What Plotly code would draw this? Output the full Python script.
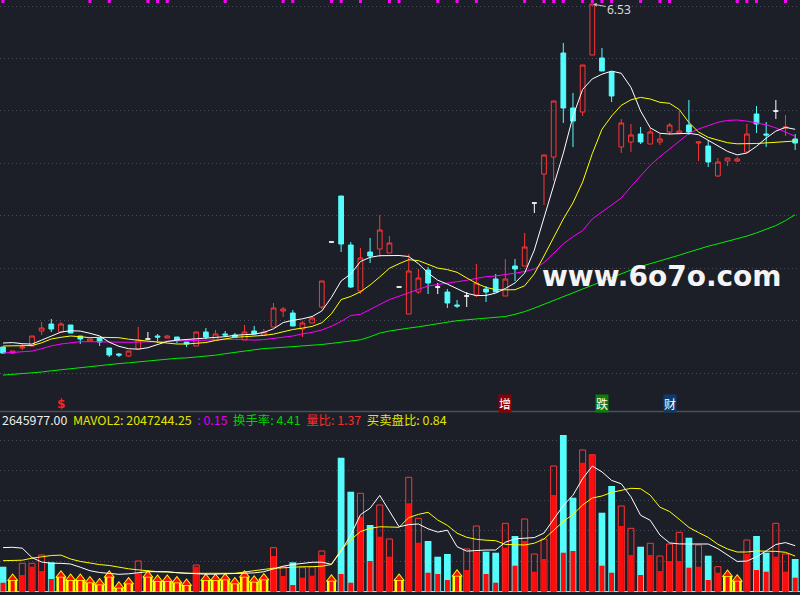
import plotly.graph_objects as go

# ---------------- daily price data (index = trading day) ----------------
OPEN = [3.10, 3.04, 3.09, 3.11, 3.26, 3.33, 3.25, 3.32, 3.21, 3.16,
        3.19, 3.09, 3.03, 3.01, 3.08, 3.18, 3.21, 3.19, 3.20, 3.15,
        3.11, 3.25, 3.17, 3.23, 3.22, 3.17, 3.26, 3.22, 3.30, 3.46,
        3.44, 3.28, 3.34, 3.50, 4.15, 4.61, 4.12, 3.66, 4.05, 4.08,
        4.04, 3.70, 3.43, 3.65, 3.87, 3.70, 3.65, 3.52, 3.61, 3.62,
        3.68, 3.78, 3.61, 3.91, 3.91, 4.54, 4.83, 5.00, 6.04, 5.49,
        5.45, 6.02, 5.99, 5.85, 5.10, 5.15, 5.23, 5.13, 5.15, 5.25,
        5.24, 5.32, 5.14, 5.11, 4.81, 4.96, 4.96, 5.05, 5.43, 5.23,
        5.46, 5.29, 5.18]
HIGH = [3.10, 3.06, 3.13, 3.21, 3.35, 3.38, 3.35, 3.32, 3.21, 3.18,
        3.19, 3.09, 3.04, 3.06, 3.30, 3.25, 3.23, 3.22, 3.20, 3.15,
        3.25, 3.29, 3.27, 3.26, 3.24, 3.32, 3.31, 3.28, 3.54, 3.50,
        3.47, 3.36, 3.41, 3.76, 4.15, 4.61, 4.15, 4.09, 4.19, 4.42,
        4.21, 3.70, 4.03, 3.88, 3.90, 3.74, 3.68, 3.57, 3.65, 3.93,
        3.71, 3.83, 3.98, 3.98, 4.24, 4.54, 5.02, 5.56, 6.14, 5.64,
        5.92, 6.53, 6.09, 5.85, 5.38, 5.33, 5.30, 5.29, 5.23, 5.34,
        5.46, 5.57, 5.15, 5.17, 4.99, 4.99, 5.00, 5.33, 5.51, 5.35,
        5.57, 5.42, 5.23]
LOW = [3.03, 3.03, 3.07, 3.11, 3.22, 3.25, 3.25, 3.24, 3.13, 3.16,
       3.11, 3.00, 3.00, 3.00, 3.08, 3.18, 3.14, 3.19, 3.14, 3.10,
       3.11, 3.18, 3.17, 3.20, 3.20, 3.17, 3.23, 3.22, 3.30, 3.40,
       3.31, 3.20, 3.34, 3.48, 4.15, 4.05, 3.69, 3.63, 3.94, 4.00,
       4.04, 3.70, 3.43, 3.63, 3.63, 3.63, 3.49, 3.49, 3.50, 3.60,
       3.55, 3.65, 3.61, 3.76, 3.91, 4.44, 4.52, 4.76, 5.34, 5.10,
       5.41, 6.02, 5.86, 5.55, 5.04, 5.05, 5.13, 5.13, 5.12, 5.22,
       5.24, 5.22, 4.96, 4.90, 4.80, 4.91, 4.95, 5.05, 5.24, 5.10,
       5.38, 5.21, 5.07]
CLOSE = [3.04, 3.06, 3.10, 3.21, 3.29, 3.28, 3.33, 3.24, 3.18, 3.18,
         3.15, 3.02, 3.02, 3.06, 3.17, 3.18, 3.20, 3.21, 3.17, 3.13,
         3.25, 3.20, 3.23, 3.22, 3.20, 3.25, 3.23, 3.25, 3.49, 3.48,
         3.31, 3.34, 3.39, 3.76, 4.15, 4.13, 3.70, 3.99, 4.01, 4.27,
         4.14, 3.70, 3.86, 3.79, 3.74, 3.70, 3.54, 3.51, 3.61, 3.74,
         3.65, 3.65, 3.78, 3.88, 4.10, 4.54, 5.02, 5.56, 5.49, 5.36,
         5.92, 6.53, 5.86, 5.61, 5.34, 5.22, 5.15, 5.25, 5.18, 5.32,
         5.26, 5.25, 5.15, 4.95, 4.95, 4.99, 4.98, 5.23, 5.33, 5.22,
         5.46, 5.30, 5.14]

# moving averages of close
MA5 = [3.140, 3.144, 3.133, 3.129, 3.169, 3.209, 3.249, 3.263, 3.259, 3.237,
       3.211, 3.148, 3.107, 3.083, 3.078, 3.093, 3.127, 3.156, 3.168, 3.175,
       3.179, 3.182, 3.189, 3.203, 3.217, 3.221, 3.229, 3.246, 3.282, 3.344,
       3.367, 3.382, 3.405, 3.460, 3.596, 3.760, 3.830, 3.955, 3.997, 4.013,
       4.013, 4.015, 4.005, 3.933, 3.840, 3.768, 3.729, 3.685, 3.637, 3.614,
       3.616, 3.639, 3.685, 3.741, 3.839, 4.070, 4.390, 4.714, 5.037, 5.407,
       5.676, 5.781, 5.828, 5.859, 5.837, 5.697, 5.460, 5.292, 5.237, 5.230,
       5.236, 5.237, 5.223, 5.165, 5.109, 5.056, 5.021, 5.040, 5.107, 5.189,
       5.259, 5.296, 5.277]
MA10 = [3.110, 3.110, 3.110, 3.115, 3.142, 3.180, 3.197, 3.210, 3.203, 3.193,
        3.197, 3.197, 3.193, 3.178, 3.167, 3.159, 3.146, 3.134, 3.130, 3.130,
        3.135, 3.145, 3.165, 3.183, 3.197, 3.203, 3.207, 3.216, 3.229, 3.252,
        3.275, 3.289, 3.306, 3.342, 3.432, 3.574, 3.606, 3.652, 3.720, 3.801,
        3.887, 3.933, 3.973, 3.964, 3.928, 3.889, 3.874, 3.847, 3.791, 3.737,
        3.696, 3.674, 3.672, 3.673, 3.712, 3.832, 4.010, 4.192, 4.380, 4.542,
        4.750, 5.034, 5.277, 5.410, 5.517, 5.572, 5.596, 5.580, 5.547, 5.537,
        5.475, 5.345, 5.250, 5.196, 5.166, 5.143, 5.132, 5.130, 5.135, 5.141,
        5.149, 5.157, 5.160]
MA20 = [3.039, 3.045, 3.050, 3.059, 3.083, 3.111, 3.130, 3.142, 3.153, 3.153,
        3.150, 3.147, 3.147, 3.147, 3.149, 3.152, 3.158, 3.162, 3.166, 3.167,
        3.169, 3.172, 3.176, 3.177, 3.177, 3.174, 3.169, 3.174, 3.187, 3.202,
        3.210, 3.232, 3.246, 3.270, 3.308, 3.355, 3.415, 3.426, 3.477, 3.528,
        3.574, 3.608, 3.641, 3.681, 3.710, 3.725, 3.738, 3.750, 3.767, 3.786,
        3.803, 3.811, 3.822, 3.838, 3.855, 3.879, 3.944, 4.037, 4.131, 4.203,
        4.264, 4.380, 4.450, 4.527, 4.590, 4.703, 4.814, 4.918, 5.002, 5.082,
        5.163, 5.236, 5.280, 5.314, 5.347, 5.366, 5.370, 5.359, 5.340, 5.322,
        5.291, 5.248, 5.207]
MA60 = [2.819, 2.825, 2.832, 2.838, 2.850, 2.862, 2.873, 2.884, 2.893, 2.903,
        2.913, 2.928, 2.934, 2.942, 2.952, 2.962, 2.972, 2.982, 2.987, 2.991,
        2.998, 3.007, 3.018, 3.033, 3.047, 3.058, 3.068, 3.085, 3.090, 3.096,
        3.105, 3.111, 3.118, 3.125, 3.136, 3.149, 3.162, 3.172, 3.202, 3.239,
        3.260, 3.278, 3.289, 3.302, 3.319, 3.333, 3.348, 3.363, 3.372, 3.380,
        3.387, 3.396, 3.405, 3.427, 3.454, 3.489, 3.527, 3.569, 3.610, 3.649,
        3.687, 3.724, 3.760, 3.798, 3.834, 3.870, 3.905, 3.932, 3.960, 3.988,
        4.018, 4.049, 4.082, 4.108, 4.132, 4.156, 4.180, 4.209, 4.241, 4.277,
        4.314, 4.364, 4.423]

# ---------------- volume data ----------------
VOL = [1432000, 1051000, 1629000, 1629000, 2108000, 1686000, 1242000, 1051000, 1051000, 913000,
       797000, 1242000, 606000, 855000, 1762000, 1242000, 993000, 993000, 913000, 762000,
       1531000, 1051000, 1051000, 1086000, 855000, 1242000, 953000, 1086000, 2530000, 1432000,
       1686000, 1375000, 1432000, 2339000, 1011000, 7728000, 5764000, 5672000, 3841000, 4996000,
       3032000, 1051000, 6596000, 4228000, 2917000, 2010000, 2166000, 1300000, 2455000, 3783000,
       2299000, 2241000, 3939000, 3205000, 4187000, 2166000, 3032000, 7248000, 9039000, 5418000,
       8173000, 7901000, 4551000, 6093000, 4938000, 3650000, 2587000, 2784000, 2050000, 2743000,
       3419000, 3107000, 2686000, 2068000, 1432000, 1282000, 1011000, 2974000, 3205000, 2241000,
       3939000, 2166000, 1877000]
BUY_VOL = [508000, 1051000, 953000, 1432000, 1184000, 722000, 1242000, 1051000, 1051000, 913000,
           797000, 1242000, 606000, 855000, 1051000, 1242000, 993000, 993000, 913000, 762000,
           1432000, 1051000, 1051000, 1086000, 855000, 1242000, 953000, 1086000, 2050000, 895000,
           375000, 797000, 913000, 2108000, 1011000, 1011000, 508000, 4320000, 1762000, 3165000,
           2010000, 1051000, 5094000, 2818000, 1086000, 1011000, 664000, 1300000, 1242000, 2299000,
           1011000, 508000, 2530000, 1490000, 2917000, 1144000, 1877000, 5574000, 2241000, 2339000,
           7439000, 7901000, 1490000, 1086000, 3783000, 2108000, 953000, 2108000, 1184000, 1762000,
           1762000, 1375000, 1432000, 664000, 1086000, 1282000, 1011000, 2166000, 1242000, 1144000,
           2010000, 1144000, 797000]
VOL_MA5 = [2535000, 2553000, 2501000, 1958000, 1704000, 1629000, 1629000, 1588000, 1403000, 1201000,
           1097000, 1045000, 993000, 1022000, 1092000, 1144000, 1144000, 1144000, 1086000, 1051000,
           1051000, 999000, 1005000, 1022000, 1040000, 1057000, 1074000, 1144000, 1311000, 1461000,
           1559000, 1640000, 1686000, 1692000, 1571000, 2339000, 3263000, 4436000, 4811000, 5550000,
           4667000, 3737000, 3864000, 3899000, 3621000, 3431000, 3540000, 2587000, 2333000, 2385000,
           2397000, 2397000, 2847000, 3044000, 3090000, 3113000, 3379000, 4147000, 4967000, 5562000,
           6521000, 7243000, 6908000, 6417000, 6220000, 5470000, 4401000, 4112000, 3263000, 2807000,
           2749000, 2743000, 2743000, 2743000, 2472000, 2108000, 1738000, 1756000, 2004000, 2345000,
           2715000, 2824000, 2645977.00]
VOL_MA10 = [1779000, 1779000, 1808000, 1923000, 2010000, 2079000, 2102000, 1877000, 1738000, 1640000,
            1554000, 1502000, 1398000, 1311000, 1248000, 1184000, 1144000, 1126000, 1086000, 1051000,
            1051000, 1051000, 1051000, 1051000, 1051000, 1126000, 1207000, 1288000, 1346000, 1369000,
            1409000, 1432000, 1432000, 1461000, 1559000, 2414000, 2986000, 3460000, 3650000, 3737000,
            3725000, 3708000, 4268000, 4453000, 4574000, 4130000, 3818000, 3367000, 3130000, 3015000,
            2963000, 2934000, 2720000, 2686000, 2686000, 2790000, 3032000, 3535000, 4043000, 4453000,
            4996000, 5400000, 5516000, 5724000, 5839000, 5960000, 5937000, 5562000, 4869000, 4620000,
            4170000, 3702000, 3402000, 3125000, 2726000, 2455000, 2281000, 2281000, 2339000, 2345000,
            2316000, 2264000, 2047244.25]

# low-volume signal days and top-row signal days
LOW_VOL_DAYS = [1, 6, 7, 8, 9, 10, 11, 12, 13, 15, 16, 17, 18, 19, 21, 22, 23, 24, 25, 26, 27,
                34, 41, 47, 75, 76]
SIGNAL_DAYS = [0, 9, 11, 15, 16, 17, 23, 29, 30, 34, 35, 37, 40, 41, 45, 47, 49, 54, 56, 57,
               58, 60, 61, 62, 63, 66, 68, 69, 76, 77, 78, 81]
TAG_DAYS = [6, 52, 62, 69]
TAG_TEXT = ["$", "增", "跌", "财"]

# indicator read-outs in the volume header
STAT_X = 0.15
TURNOVER = 4.41
VOL_RATIO = 1.37
BID_ASK_RATIO = 0.84

# ---------------- styling ----------------
BG = "#1c1f27"
GRID = "#4a4f5c"
RED = "#ff3535"
RED_FILL = "#ff0d0d"
CYAN = "#54fcfc"
YELLOW = "#ffff00"
MAGENTA = "#ff00ff"
GREEN = "#00ee00"
WHITE = "#ffffff"

N = len(CLOSE)
days = list(range(N))

P_LO, P_HI = 2.46, 6.57          # price axis range
V_PER_PX = 57756                 # volume units per pixel in the lower pane
V_LO, V_HI = -3.5 * V_PER_PX, 179.5 * V_PER_PX

fig = go.Figure()


def candles(ids, line_color, fill_color):
    style = dict(line=dict(color=line_color, width=1), fillcolor=fill_color)
    return go.Candlestick(
        x=ids,
        open=[OPEN[i] for i in ids], high=[HIGH[i] for i in ids],
        low=[LOW[i] for i in ids], close=[CLOSE[i] for i in ids],
        increasing=style, decreasing=style, whiskerwidth=0,
        xaxis="x", yaxis="y", hoverinfo="skip",
    )


up_days = [i for i in days if CLOSE[i] > OPEN[i]]
down_days = [i for i in days if CLOSE[i] < OPEN[i]]
flat_days = [i for i in days if CLOSE[i] == OPEN[i]]

# moving averages first so the candles sit on top
for series, color in ((MA60, GREEN), (MA20, MAGENTA), (MA10, YELLOW), (MA5, WHITE)):
    fig.add_trace(go.Scatter(x=days, y=series, mode="lines", line=dict(color=color, width=1),
                             xaxis="x", yaxis="y", hoverinfo="skip"))

fig.add_trace(candles(up_days, RED, "rgba(0,0,0,0)"))
fig.add_trace(candles(down_days, CYAN, CYAN))
fig.add_trace(candles(flat_days, WHITE, WHITE))

# signal ticks along the top edge
fig.add_trace(go.Scatter(x=SIGNAL_DAYS, y=[P_HI - 0.015] * len(SIGNAL_DAYS), mode="markers",
                         marker=dict(symbol="square", size=3, color=MAGENTA, line_width=0),
                         xaxis="x", yaxis="y", hoverinfo="skip"))

# ---------------- volume pane ----------------
def rising(i):
    if CLOSE[i] != OPEN[i]:
        return CLOSE[i] > OPEN[i]
    return i == 0 or CLOSE[i] >= CLOSE[i - 1]


normal_days = [i for i in days if i not in LOW_VOL_DAYS]
vol_up = [i for i in normal_days if rising(i)]
vol_down = [i for i in normal_days if not rising(i)]

fig.add_trace(go.Bar(x=vol_down, y=[VOL[i] for i in vol_down], width=0.7,
                     marker=dict(color=CYAN, line_width=0), xaxis="x2", yaxis="y2", hoverinfo="skip"))
fig.add_trace(go.Bar(x=vol_up, y=[VOL[i] for i in vol_up], width=0.62,
                     marker=dict(color="rgba(0,0,0,0)", line=dict(color=RED, width=1)),
                     xaxis="x2", yaxis="y2", hoverinfo="skip"))
fig.add_trace(go.Bar(x=normal_days, y=[BUY_VOL[i] for i in normal_days], width=0.52,
                     marker=dict(color=RED_FILL, line_width=0), xaxis="x2", yaxis="y2", hoverinfo="skip"))

# low-volume days: yellow house-shaped block holding a red up-arrow
head_y = [VOL[i] - 5 * V_PER_PX for i in LOW_VOL_DAYS]
fig.add_trace(go.Bar(x=LOW_VOL_DAYS, y=[VOL[i] - 6 * V_PER_PX for i in LOW_VOL_DAYS], width=0.95,
                     marker=dict(color=YELLOW, line_width=0), xaxis="x2", yaxis="y2", hoverinfo="skip"))
fig.add_trace(go.Scatter(x=LOW_VOL_DAYS, y=head_y, mode="markers",
                         marker=dict(symbol="triangle-up", size=10, color=YELLOW, line_width=0),
                         xaxis="x2", yaxis="y2", hoverinfo="skip"))
fig.add_trace(go.Bar(x=LOW_VOL_DAYS, y=[BUY_VOL[i] - 6 * V_PER_PX for i in LOW_VOL_DAYS], width=0.42,
                     marker=dict(color=RED_FILL, line_width=0), xaxis="x2", yaxis="y2", hoverinfo="skip"))
fig.add_trace(go.Scatter(x=LOW_VOL_DAYS, y=head_y, mode="markers",
                         marker=dict(symbol="triangle-up", size=7, color=RED_FILL, line_width=0),
                         xaxis="x2", yaxis="y2", hoverinfo="skip"))

fig.add_trace(go.Scatter(x=days, y=VOL_MA10, mode="lines", line=dict(color=YELLOW, width=1),
                         xaxis="x2", yaxis="y2", hoverinfo="skip"))
fig.add_trace(go.Scatter(x=days, y=VOL_MA5, mode="lines", line=dict(color=WHITE, width=1),
                         xaxis="x2", yaxis="y2", hoverinfo="skip"))

# ---------------- annotations ----------------
annotations = []

peak = HIGH.index(max(HIGH))
annotations.append(dict(x=peak, y=HIGH[peak], xref="x", yref="y", text=f"{HIGH[peak]:.2f}",
                        showarrow=True, ax=27, ay=5, arrowcolor="#c8c8c8", arrowwidth=1,
                        arrowhead=2, arrowsize=0.7, standoff=1,
                        font=dict(family="Noto Sans, DejaVu Sans", size=12, color="#d8d8d8")))

tag_bg = {"$": None, "增": "#8a0000", "跌": "#0a7f0a", "财": "#0c3c6e"}
for d, t in zip(TAG_DAYS, TAG_TEXT):
    if tag_bg[t] is None:
        annotations.append(dict(x=d, y=2.535, xref="x", yref="y", text=f"<b>{t}</b>", showarrow=False,
                                font=dict(family="DejaVu Sans", size=12, color="#ff2020")))
    else:
        annotations.append(dict(x=d, y=2.535, xref="x", yref="y", text=t, showarrow=False,
                                bgcolor=tag_bg[t], borderpad=0,
                                font=dict(family="Noto Sans CJK SC", size=12, color=WHITE)))

annotations.append(dict(x=0.827, y=1 - 276 / 595, xref="paper", yref="paper",
                        xanchor="center", yanchor="middle",
                        text="<b>www.6o7o.com</b>", showarrow=False,
                        font=dict(family="DejaVu Sans", size=28, color="#f4f4f4")))

header = (
    f"<span style='color:#ececec'>{VOL_MA5[-1]:.2f}</span>  "
    f"<span style='color:#e4e400'>MAVOL2: {VOL_MA10[-1]:.2f}</span>  "
    f"<span style='color:#e000e0'>: {STAT_X:.2f}</span>  "
    f"<span style='color:#00d000'>换手率: {TURNOVER:.2f}</span>  "
    f"<span style='color:#ff2a2a'>量比: {VOL_RATIO:.2f}</span>  "
    f"<span style='color:#e4e400'>买卖盘比: {BID_ASK_RATIO:.2f}</span>"
)
annotations.append(dict(x=0, y=1 - 420 / 595, xref="paper", yref="paper", xanchor="left",
                        yanchor="middle", text=header, showarrow=False,
                        font=dict(family="Noto Sans CJK SC", size=12.4, color=WHITE)))

hidden_x = dict(showgrid=False, showticklabels=False, zeroline=False, showline=False, ticks="",
                range=[-0.31, 82.5], fixedrange=True)

fig.update_layout(
    width=800, height=595, margin=dict(l=0, r=0, t=0, b=0),
    paper_bgcolor=BG, plot_bgcolor=BG, showlegend=False, barmode="overlay",
    xaxis=dict(domain=[0, 1], anchor="y", rangeslider=dict(visible=False), **hidden_x),
    xaxis2=dict(domain=[0, 1], anchor="y2", matches="x", rangeslider=dict(visible=False), **hidden_x),
    yaxis=dict(domain=[1 - 411 / 595, 1], range=[P_LO, P_HI], showticklabels=False, ticks="",
               zeroline=False, showline=False, showgrid=True, gridcolor=GRID, gridwidth=1,
               griddash="1px,3px", tick0=6.51, dtick=0.5247),
    yaxis2=dict(domain=[0, 183 / 595], range=[V_LO, V_HI], showticklabels=False, ticks="",
                showline=False, showgrid=True, gridcolor=GRID, gridwidth=1, griddash="1px,3px",
                tick0=0, dtick=1750000, zeroline=True, zerolinecolor="#e6e600", zerolinewidth=1),
    shapes=[dict(type="line", xref="paper", yref="paper", x0=0, x1=1,
                 y0=1 - 411.5 / 595, y1=1 - 411.5 / 595, line=dict(color="#4a4f5c", width=1.5))],
    annotations=annotations,
)

fig.write_html("out.html")
